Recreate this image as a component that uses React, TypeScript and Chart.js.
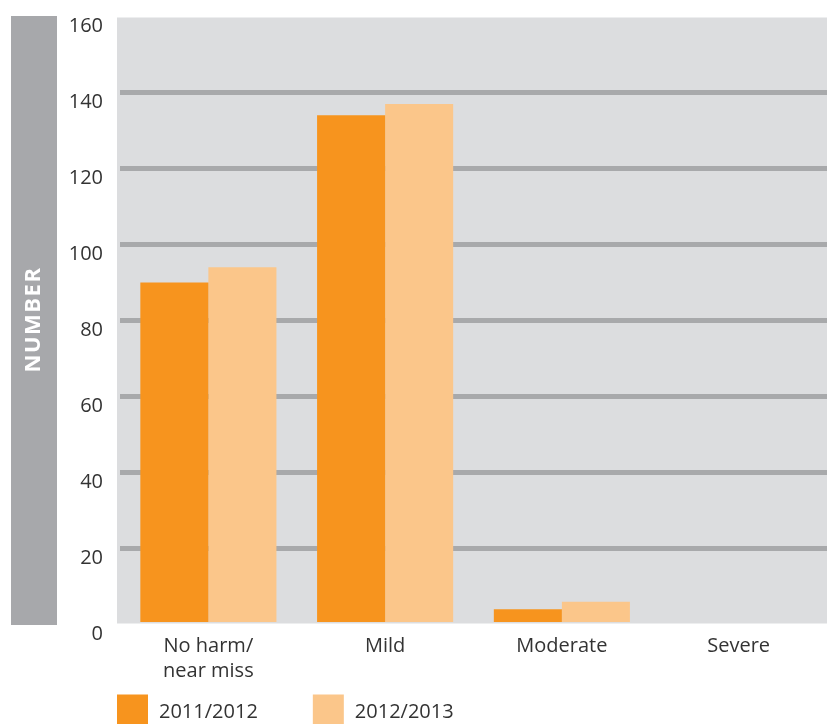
import React, { useEffect, useRef } from "react";
import { Chart, registerables } from "chart.js";

Chart.register(...registerables);

const categories: (string | string[])[] = [["No harm/", "near miss"], "Mild", "Moderate", "Severe"];
const seriesLabels = ["2011/2012", "2012/2013"];
const values2011 = [90, 134, 4, 0];
const values2012 = [94, 137, 6, 0];
const yMin = 0;
const yMax = 160;
const yStep = 20;
const yTitle = "NUMBER";

const COLOR_2011 = "#f7941e";
const COLOR_2012 = "#fbc68a";
const PLOT_BG = "#dcdddf";
const BAND = "#a7a8ab";
const GRID = "#a8a9ab";
const TEXT = "#333333";
const FONT_FAMILY = "'Open Sans', sans-serif";
const BG_EXTEND = 3;

const decorPlugin = {
  id: "decor",
  beforeDraw(chart: any) {
    const { ctx, chartArea } = chart;
    ctx.save();
    ctx.fillStyle = PLOT_BG;
    ctx.fillRect(chartArea.left - BG_EXTEND, chartArea.top + 1, chartArea.right - chartArea.left + BG_EXTEND, chartArea.bottom - chartArea.top - 2);
    ctx.fillStyle = BAND;
    ctx.fillRect(11, chartArea.top - 0.5, 46, chartArea.bottom - chartArea.top + 1);
    ctx.translate(34, (chartArea.top + chartArea.bottom) / 2);
    ctx.rotate(-Math.PI / 2);
    ctx.fillStyle = "#ffffff";
    ctx.font = `700 22px ${FONT_FAMILY}`;
    try { (ctx as any).letterSpacing = "1.5px"; } catch (e) {}
    ctx.textAlign = "center";
    ctx.textBaseline = "middle";
    ctx.fillText(yTitle, 1, 0);
    ctx.restore();
  },
  afterDraw(chart: any) {
    const { ctx, chartArea } = chart;
    ctx.save();
    ctx.font = `20px ${FONT_FAMILY}`;
    ctx.textAlign = "left";
    ctx.textBaseline = "middle";
    let x = chartArea.left - BG_EXTEND;
    const boxTop = chartArea.bottom + 70;
    chart.data.datasets.forEach((ds: any) => {
      ctx.fillStyle = ds.backgroundColor;
      ctx.fillRect(x, boxTop, 31, 31);
      ctx.fillStyle = TEXT;
      ctx.fillText(ds.label, x + 42, boxTop + 18);
      x += 42 + ctx.measureText(ds.label).width + 55;
    });
    ctx.restore();
  },
};

export default function App() {
  const canvasRef = useRef<HTMLCanvasElement | null>(null);

  useEffect(() => {
    document.body.style.margin = "0";
    const canvas = canvasRef.current;
    if (!canvas) return;
    const chart = new Chart(canvas, {
      type: "bar",
      data: {
        labels: categories,
        datasets: [
          { label: seriesLabels[0], data: values2011, backgroundColor: COLOR_2011, borderWidth: 0 },
          { label: seriesLabels[1], data: values2012, backgroundColor: COLOR_2012, borderWidth: 0 },
        ],
      },
      options: {
        responsive: false,
        animation: false,
        devicePixelRatio: 1,
        layout: { padding: { top: 16.5, right: 0, bottom: 0, left: 0 } },
        plugins: { legend: { display: false }, tooltip: { enabled: false } },
        datasets: { bar: { categoryPercentage: 0.77, barPercentage: 1 } },
        scales: {
          x: {
            grid: { display: false },
            border: { display: false },
            ticks: {
              color: TEXT,
              padding: 1,
              maxRotation: 0,
              autoSkip: false,
              font: { family: FONT_FAMILY, size: 20, lineHeight: 1.25 },
            },
            afterFit(scale: any) {
              scale.height = 99.5;
              scale.paddingLeft = 0;
              scale.paddingRight = 0;
            },
          },
          y: {
            min: yMin,
            max: yMax,
            border: { display: false },
            grid: {
              drawTicks: false,
              lineWidth: 5,
              color: (c: any) =>
                c.tick && (c.tick.value === yMin || c.tick.value === yMax) ? "rgba(0,0,0,0)" : GRID,
            },
            ticks: {
              stepSize: yStep,
              color: TEXT,
              padding: 17,
              labelOffset: 10,
              font: { family: FONT_FAMILY, size: 20 },
            },
            afterFit(scale: any) {
              scale.width = 120;
              scale.paddingTop = 0;
              scale.paddingBottom = 0;
            },
          },
        },
      },
      plugins: [decorPlugin],
    });
    return () => chart.destroy();
  }, []);

  return (
    <div style={{ width: 827, height: 724, position: "relative" }}>
      <canvas ref={canvasRef} width={827} height={724} style={{ display: "block" }} />
    </div>
  );
}
